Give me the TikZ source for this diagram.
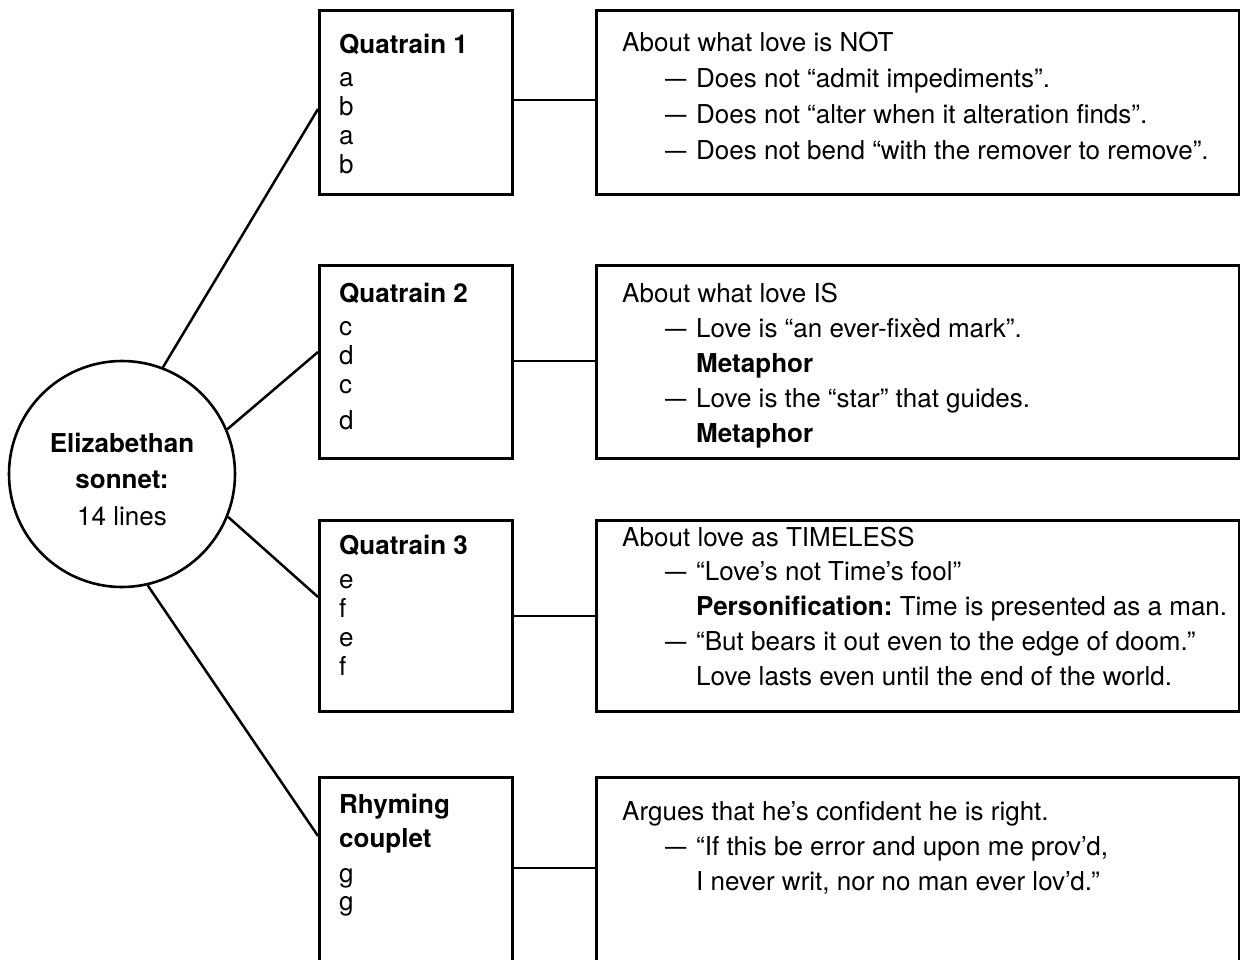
\documentclass[tikz,border=0pt]{standalone}
\usepackage{fontspec}
\setmainfont{TeX Gyre Heros}
\newcommand{\bodyfont}{\fontsize{26pt}{36pt}\selectfont}
\newcommand{\dashline}[1]{\hbox{\hspace*{43pt}\makebox[31pt][l]{\scalebox{0.82}[1]{—}}#1}}
\newcommand{\indline}[1]{\hbox{\hspace*{74pt}#1}}
\newcommand{\plainline}[1]{\hbox{#1}}
\newcommand{\stack}[2]{\vtop{\baselineskip=#1\lineskiplimit=-100pt\lineskip=0pt #2}}
\begin{document}
\begin{tikzpicture}[x=1pt,y=-1pt,
  box/.style={draw, line width=2.6pt, inner sep=0pt, anchor=north west},
  txt/.style={inner sep=0pt, anchor=base west, font=\bodyfont},
  ctxt/.style={inner sep=0pt, anchor=base, font=\bodyfont},
  link/.style={line width=2.5pt}]
\useasboundingbox (0,0) rectangle (1240,959);
\fill[white] (0,0) rectangle (1240,959);

% central circle
\node[draw, circle, line width=2.6pt, minimum size=226pt, inner sep=0pt] (circ) at (122,474) {};
\node[ctxt] (c1) at (122,452) {\textbf{Elizabethan}};
\node[ctxt] (c2) at (122,488) {\textbf{sonnet:}};
\node[ctxt] (c3) at (122,525) {14 lines};

% left boxes
\node[box, minimum width=193pt, minimum height=184pt] (q1) at (318,9) {};
\node[box, minimum width=193pt, minimum height=193pt] (q2) at (318,264) {};
\node[box, minimum width=193pt, minimum height=191pt] (q3) at (318,519) {};
\node[box, minimum width=193pt, minimum height=190pt] (q4) at (318,776) {};

% right boxes
\node[box, minimum width=643pt, minimum height=184pt] (r1) at (595,9) {};
\node[box, minimum width=643pt, minimum height=193pt] (r2) at (595,264) {};
\node[box, minimum width=643pt, minimum height=191pt] (r3) at (595,519) {};
\node[box, minimum width=643pt, minimum height=190pt] (r4) at (595,776) {};

% left box texts
\node[txt] (q1t) at (339,53) {\textbf{Quatrain 1}};
\node[txt] (q1l) at (339,86) {\stack{29.3pt}{\plainline{a}\plainline{b}\plainline{a}\plainline{b}}};
\node[txt] (q2t) at (339,302) {\textbf{Quatrain 2}};
\node[txt] (q2l) at (339,335) {\stack{29pt}{\plainline{c}\plainline{d}\plainline{c}\vskip7pt\plainline{d}}};
\node[txt] (q3t) at (339,554) {\textbf{Quatrain 3}};
\node[txt] (q3l) at (339,588) {\stack{29pt}{\plainline{e}\plainline{f}\plainline{e}\plainline{f}}};
\node[txt] (q4t) at (339,813) {\stack{34pt}{\plainline{\textbf{Rhyming}}\plainline{\textbf{couplet}}}};
\node[txt] (q4l) at (339,882) {\stack{28pt}{\plainline{g}\plainline{g}}};

% right box texts
\node[txt] (r1t) at (622,51) {\stack{36pt}{%
  \plainline{About what love is NOT}%
  \dashline{Does not “admit impediments”.}%
  \dashline{Does not “alter when it alteration finds”.}%
  \dashline{Does not bend “with the remover to remove”.}}};
\node[txt] (r2t) at (622,302) {\stack{35pt}{%
  \plainline{About what love IS}%
  \dashline{Love is “an ever-fixèd mark”.}%
  \indline{\textbf{Metaphor}}%
  \dashline{Love is the “star” that guides.}%
  \indline{\textbf{Metaphor}}}};
\node[txt] (r3t) at (622,546) {\stack{34.75pt}{%
  \plainline{About love as TIMELESS}%
  \dashline{“Love’s not Time’s fool”}%
  \indline{\textbf{Personification:}\ Time is presented as a man.}%
  \dashline{“But bears it out even to the edge of doom.”}%
  \indline{Love lasts even until the end of the world.}}};
\node[txt] (r4t) at (622,820) {\stack{35pt}{%
  \plainline{Argues that he’s confident he is right.}%
  \dashline{“If this be error and upon me prov’d,}%
  \indline{I never writ, nor no man ever lov’d.”}}};

% connectors circle -> left boxes
\coordinate (y1) at (0,109);
\coordinate (y2) at (0,352);
\coordinate (y3) at (0,597);
\coordinate (y4) at (0,836);
\draw[link] (circ.69.3) -- (q1.west |- y1);
\draw[link] (circ.23.3) -- (q2.west |- y2);
\draw[link] (circ.-22.5) -- (q3.west |- y3);
\draw[link] (circ.-77.6) -- (q4.west |- y4);

% connectors left -> right boxes
\coordinate (h1) at (0,100);
\coordinate (h2) at (0,361);
\coordinate (h3) at (0,616);
\coordinate (h4) at (0,868);
\draw[link] (q1.east |- h1) -- (r1.west |- h1);
\draw[link] (q2.east |- h2) -- (r2.west |- h2);
\draw[link] (q3.east |- h3) -- (r3.west |- h3);
\draw[link] (q4.east |- h4) -- (r4.west |- h4);
\end{tikzpicture}
\end{document}
